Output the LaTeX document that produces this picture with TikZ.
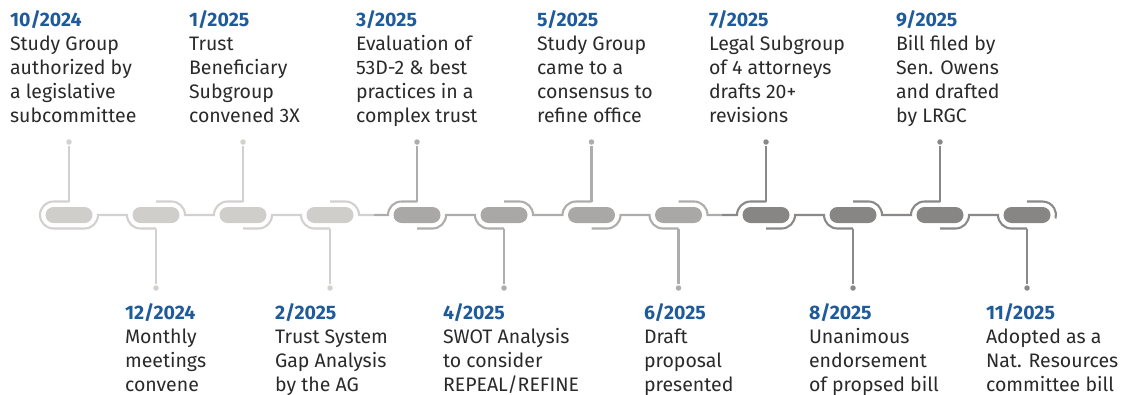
\documentclass[tikz,border=0pt]{standalone}
\usepackage{fontspec}
\setmainfont{Fira Sans}
\definecolor{pillA}{HTML}{CFCECB}
\definecolor{pillB}{HTML}{A9A8A6}
\definecolor{pillC}{HTML}{878685}
\definecolor{lineA}{HTML}{D2D1CE}
\definecolor{lineB}{HTML}{AEADAB}
\definecolor{lineC}{HTML}{8A8988}
\definecolor{datecol}{HTML}{1F5A9A}
\definecolor{textcol}{HTML}{2A2A2A}
\tikzset{
  pill/.style={rounded corners=8pt, minimum width=47pt, minimum height=16pt, inner sep=0pt, outer sep=0pt},
  dotmark/.style={circle, inner sep=0pt, minimum size=5.5pt},
  event/.style={anchor=base west, align=left, inner sep=0pt, text=textcol,
    font=\fontsize{19.5}{24}\selectfont},
}
\newcommand{\when}[1]{{\color{datecol}\bfseries #1}}
\begin{document}
\begin{tikzpicture}[x=1pt,y=1pt,line width=2.1pt]
    \useasboundingbox (0,0) rectangle (1123,-394);

    % pills
    \node [pill, fill=pillA] (p1) at (69,-215) {};
    \node [pill, fill=pillA] (p2) at (156,-215) {};
    \node [pill, fill=pillA] (p3) at (243,-215) {};
    \node [pill, fill=pillA] (p4) at (330,-215) {};
    \node [pill, fill=pillB] (p5) at (417,-215) {};
    \node [pill, fill=pillB] (p6) at (504,-215) {};
    \node [pill, fill=pillB] (p7) at (591.5,-215) {};
    \node [pill, fill=pillB] (p8) at (678.5,-215) {};
    \node [pill, fill=pillC] (p9) at (766,-215) {};
    \node [pill, fill=pillC] (p10) at (853,-215) {};
    \node [pill, fill=pillC] (p11) at (940,-215) {};
    \node [pill, fill=pillC] (p12) at (1027,-215) {};

    % outline round the pills
    \draw [lineA] (69,-201.5) -- (53.5,-201.5) arc (90:270:13.5) -- (69,-228.5);
    \draw [lineA] (69,-228.5) -- (84.5,-228.5) arc (-90:0:13.5) -- (127,-215) arc (180:270:13.5) -- (156,-228.5);
    \draw [lineA] (156,-201.5) -- (171.5,-201.5) arc (90:0:13.5) -- (214,-215) arc (180:90:13.5) -- (243,-201.5);
    \draw [lineA] (243,-228.5) -- (258.5,-228.5) arc (-90:0:13.5) -- (301,-215) arc (180:270:13.5) -- (330,-228.5);
    \draw [lineA] (330,-201.5) -- (345.5,-201.5) arc (90:0:13.5) -- (373.5,-215);
    \draw [lineB] (373.5,-215) -- (388,-215) arc (180:90:13.5) -- (417,-201.5);
    \draw [lineB] (417,-228.5) -- (432.5,-228.5) arc (-90:0:13.5) -- (475,-215) arc (180:270:13.5) -- (504,-228.5);
    \draw [lineB] (504,-201.5) -- (519.5,-201.5) arc (90:0:13.5) -- (562.5,-215) arc (180:90:13.5) -- (591.5,-201.5);
    \draw [lineB] (591.5,-228.5) -- (607,-228.5) arc (-90:0:13.5) -- (649.5,-215) arc (180:270:13.5) -- (678.5,-228.5);
    \draw [lineB] (678.5,-201.5) -- (694,-201.5) arc (90:0:13.5) -- (722,-215);
    \draw [lineC] (722,-215) -- (737,-215) arc (180:90:13.5) -- (766,-201.5);
    \draw [lineC] (766,-228.5) -- (781.5,-228.5) arc (-90:0:13.5) -- (824,-215) arc (180:270:13.5) -- (853,-228.5);
    \draw [lineC] (853,-201.5) -- (868.5,-201.5) arc (90:0:13.5) -- (911,-215) arc (180:90:13.5) -- (940,-201.5);
    \draw [lineC] (940,-228.5) -- (955.5,-228.5) arc (-90:0:13.5) -- (998,-215) arc (180:270:13.5) -- (1027,-228.5);
    \draw [lineC] (1027,-201.5) -- (1042.5,-201.5) arc (90:-15:13.5);

    % end dots
    \node [dotmark, fill=lineA] (d1) at (69,-142) {};
    \node [dotmark, fill=lineA] (d2) at (156,-288) {};
    \node [dotmark, fill=lineA] (d3) at (243,-142) {};
    \node [dotmark, fill=lineA] (d4) at (330,-288) {};
    \node [dotmark, fill=lineB] (d5) at (417,-142) {};
    \node [dotmark, fill=lineB] (d6) at (504,-288) {};
    \node [dotmark, fill=lineB] (d7) at (591.5,-142) {};
    \node [dotmark, fill=lineB] (d8) at (678.5,-288) {};
    \node [dotmark, fill=lineC] (d9) at (766,-142) {};
    \node [dotmark, fill=lineC] (d10) at (853,-288) {};
    \node [dotmark, fill=lineC] (d11) at (940,-142) {};
    \node [dotmark, fill=lineC] (d12) at (1027,-288) {};

    \draw [lineA] (p1.north) ++(0,5.5) -- (d1);
    \draw [lineA] (p2.south) ++(0,-5.5) -- (d2);
    \draw [lineA] (p3.north) ++(0,5.5) -- (d3);
    \draw [lineA] (p4.south) ++(0,-5.5) -- (d4);
    \draw [lineB] (p5.north) ++(0,5.5) -- (d5);
    \draw [lineB] (p6.south) ++(0,-5.5) -- (d6);
    \draw [lineB] (p7.north) ++(0,5.5) -- (d7);
    \draw [lineB] (p8.south) ++(0,-5.5) -- (d8);
    \draw [lineC] (p9.north) ++(0,5.5) -- (d9);
    \draw [lineC] (p10.south) ++(0,-5.5) -- (d10);
    \draw [lineC] (p11.north) ++(0,5.5) -- (d11);
    \draw [lineC] (p12.south) ++(0,-5.5) -- (d12);

    % events (base is the last line)
    \node [event] (t1) at (9,-122) {\when{10/2024}\\Study Group\\authorized by\\a legislative\\subcommittee};
    \node [event] (t2) at (124,-391) {\when{12/2024}\\Monthly\\meetings\\convene};
    \node [event] (t3) at (188,-122) {\when{1/2025}\\Trust\\Beneficiary\\Subgroup\\convened 3X};
    \node [event] (t4) at (274,-391) {\when{2/2025}\\Trust System\\Gap Analysis\\by the AG};
    \node [event] (t5) at (355,-122) {\when{3/2025}\\Evaluation of\\53D-2 \& best\\practices in a\\complex trust};
    \node [event] (t6) at (442,-391) {\when{4/2025}\\SWOT Analysis\\to consider\\REPEAL/REFINE};
    \node [event] (t7) at (536,-122) {\when{5/2025}\\Study Group\\came to a\\consensus to\\refine office};
    \node [event] (t8) at (643,-391) {\when{6/2025}\\Draft\\proposal\\presented};
    \node [event] (t9) at (708,-122) {\when{7/2025}\\Legal Subgroup\\of 4 attorneys\\drafts 20+\\revisions};
    \node [event] (t10) at (808,-391) {\when{8/2025}\\Unanimous\\endorsement\\of propsed bill};
    \node [event] (t11) at (895,-122) {\when{9/2025}\\Bill filed by\\Sen. Owens\\and drafted\\by LRGC};
    \node [event] (t12) at (985,-391) {\when{11/2025}\\Adopted as a\\Nat. Resources\\committee bill};
\end{tikzpicture}
\end{document}
